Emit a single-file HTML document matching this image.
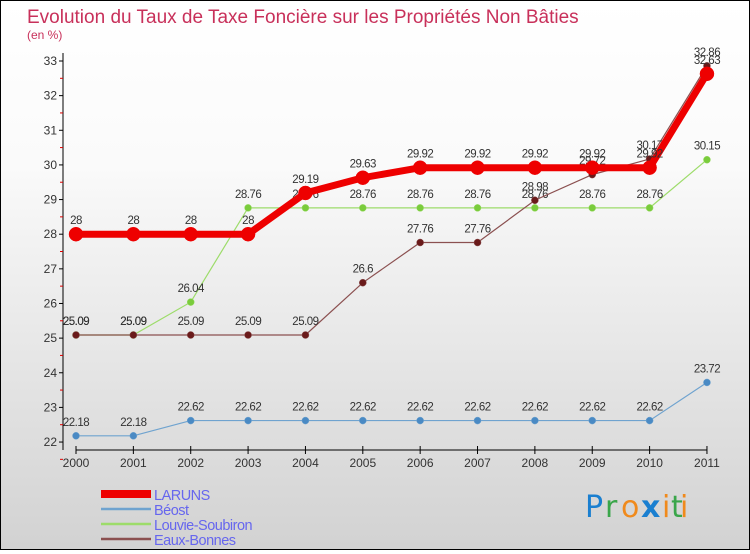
<!DOCTYPE html>
<html><head><meta charset="utf-8"><style>
body{margin:0;width:750px;height:550px;overflow:hidden;font-family:"Liberation Sans",sans-serif}
#c{position:relative;width:748px;height:548px;border:1px solid #000;background:linear-gradient(#fff,#fafafa 30%,#d2d2d2)}
</style></head><body>
<div id="c">
<svg id="s" width="748" height="548" xmlns="http://www.w3.org/2000/svg">
<text x="26" y="22" font-size="19" fill="#c8305a">Evolution du Taux de Taxe Foncière sur les Propriétés Non Bâties</text>
<text x="26" y="38" font-size="12" fill="#c8305a">(en %)</text>
<g id="axes"></g><g id="series"></g><g id="legend"></g>
<g font-size="30" font-family="'DejaVu Sans',sans-serif">
<text x="584" y="516" fill="#1a7fd0">P</text><text x="604" y="516" fill="#3aa64a">r</text><text x="620" y="516" fill="#f08a1c">o</text><text x="640" y="516" fill="#1a7fd0" font-weight="bold">x</text><text x="661" y="516" fill="#f08a1c">i</text><text x="670" y="516" fill="#3aa64a">t</text><text x="679" y="516" fill="#f08a1c">i</text>
</g>
</svg></div>
<script>
const years=["2000","2001","2002","2003","2004","2005","2006","2007","2008","2009","2010","2011"];
const yTicks=[22,23,24,25,26,27,28,29,30,31,32,33];
const laruns=[28,28,28,28,29.19,29.63,29.92,29.92,29.92,29.92,29.92,32.63];
const beost=[22.18,22.18,22.62,22.62,22.62,22.62,22.62,22.62,22.62,22.62,22.62,23.72];
const louvie=[25.09,25.09,26.04,28.76,28.76,28.76,28.76,28.76,28.76,28.76,28.76,30.15];
const eaux=[25.09,25.09,25.09,25.09,25.09,26.6,27.76,27.76,28.98,29.72,30.17,32.86];
const NS="http://www.w3.org/2000/svg";
const xs=i=>75+i*57.36, ys=v=>60+(33-v)*34.64;
function mk(t,a,p){const e=document.createElementNS(NS,t);for(const k in a)e.setAttribute(k,a[k]);p.appendChild(e);return e;}
const ax=document.getElementById('axes');
const yl=mk('line',{x1:62,y1:52,x2:62,y2:449,stroke:'#000'},ax);


const xl=mk('line',{x1:75,y1:449,x2:706,y2:449,stroke:'#000'},ax);


yTicks.forEach(v=>{const t=mk('text',{x:56,y:ys(v)+4,'font-size':12,'text-anchor':'end',fill:'#333'},ax);t.textContent=v;


mk('line',{x1:58,y1:ys(v),x2:62,y2:ys(v),stroke:'#000'},ax);
mk('line',{x1:59,y1:ys(v)+17.3,x2:62,y2:ys(v)+17.3,stroke:'#d00'},ax);});
years.forEach((y,i)=>{mk('line',{x1:xs(i),y1:445,x2:xs(i),y2:453,stroke:'#000'},ax);
const t=mk('text',{x:xs(i),y:466,'font-size':12,'text-anchor':'middle',fill:'#333'},ax);t.textContent=y;

});
const sg=document.getElementById('series');
function draw(name,d,col,dot,w,r){const g=mk('g',{},sg);


mk('polyline',{points:d.map((v,i)=>xs(i)+','+ys(v)).join(' '),fill:'none',stroke:col,'stroke-width':w},g);
d.forEach((v,i)=>{const c=mk('circle',{cx:xs(i),cy:ys(v),r:r,fill:dot,stroke:col,'stroke-width':0.5},g);


const t=mk('text',{x:xs(i),y:ys(v)-10,'font-size':11.5,'text-anchor':'middle',fill:'#333','letter-spacing':'-0.5'},g);t.textContent=v;

});}
draw('beost',beost,'#6fa3cf','#4a8ac4',1.2,3.5);
draw('louvie-soubiron',louvie,'#9ddc6a','#7acc3c',1.2,3.5);
draw('eaux-bonnes',eaux,'#8b5050','#6a1a1a',1.2,3.5);
draw('laruns',laruns,'#ee0000','#ee0000',7,7);
const lg=document.getElementById('legend');
[['LARUNS','#ee0000',8],['Béost','#6fa3cf',2.5],['Louvie-Soubiron','#9ddc6a',2.5],['Eaux-Bonnes','#8b5050',2.5]].forEach((e,i)=>{
const y=493+i*15;
const l=mk('line',{x1:100,y1:y,x2:150,y2:y,stroke:e[1],'stroke-width':e[2]},lg);


const t=mk('text',{x:153,y:y+6,'font-size':14.5,fill:'#6666ee','letter-spacing':'-0.5'},lg);t.textContent=e[0];

});
</script>
</body></html>
